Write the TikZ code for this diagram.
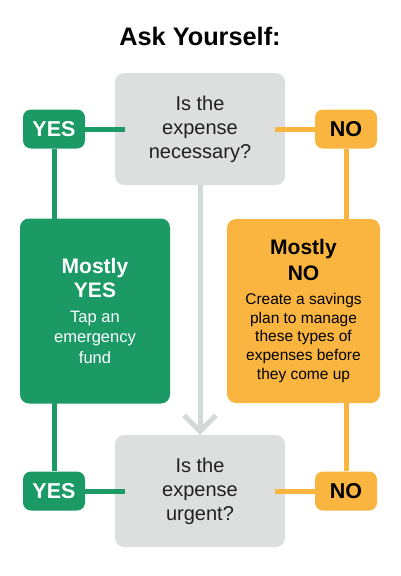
\documentclass[tikz,border=0pt]{standalone}
\usepackage{fontspec}
\setmainfont{Liberation Sans}
\usepackage{xcolor}
\usepackage{tikz}
\usetikzlibrary{arrows.meta}

\definecolor{verde}{HTML}{1B9A66}
\definecolor{naranja}{HTML}{F9B540}
\definecolor{gris}{HTML}{DCDFDE}
\definecolor{grislinea}{HTML}{D5D8D8}
\definecolor{texto}{HTML}{231F20}
\newcommand{\encabezado}[1]{{\fontsize{21}{24}\selectfont\bfseries #1}}

\begin{document}
\begin{tikzpicture}[x=1pt, y=-1pt,
    question/.style={fill=gris, text=texto, rounded corners=9pt, inner sep=0pt,
        minimum width=170pt, minimum height=112pt, align=center,
        font=\fontsize{20}{24}\selectfont},
    answer/.style={rounded corners=8pt, inner sep=0pt, minimum width=62pt,
        minimum height=39pt, font=\fontsize{21.5}{24}\selectfont\bfseries},
    yeslabel/.style={answer, fill=verde, text=white},
    nolabel/.style={answer, fill=naranja, text=black},
    yesline/.style={verde, line width=5pt},
    noline/.style={naranja, line width=5pt}]
                \useasboundingbox (0,0) rectangle (400,576);
                % Titulo
                \node[font=\fontsize{25.3}{30}\selectfont\bfseries] (title) at (200,36) {Ask Yourself:};
                % Preguntas
                \node[question] (q1) at (200,129) {Is the\\expense\\necessary?};
                \node[question] (q2) at (200,491) {Is the\\expense\\urgent?};
                % Respuestas
                \node[yeslabel] (yes1) at (54,129) {YES};
                \node[yeslabel] (yes2) at (54,491) {YES};
                \node[nolabel] (no1) at (346,129) {NO};
                \node[nolabel] (no2) at (346,491) {NO};
                % Lineas
                \draw[yesline] (yes1.east) -- ([xshift=10pt]q1.west);
                \draw[yesline] (yes2.east) -- ([xshift=10pt]q2.west);
                \draw[yesline] (yes1.south) -- (yes2.north);
                \draw[noline] ([xshift=-10pt]q1.east) -- (no1.west);
                \draw[noline] ([xshift=-10pt]q2.east) -- (no2.west);
                \draw[noline] (no1.south) -- (no2.north);
                \draw[grislinea, line width=5pt, -{Straight Barb[length=16pt, width=32pt]}] (q1.south) -- (q2.north);
                % Mostly YES
                \node[fill=verde, text=white, rounded corners=9pt, minimum width=150pt,
                    minimum height=185pt, align=center, font=\fontsize{16.5}{20.5}\selectfont]
                    (myes) at (95,311) {\encabezado{Mostly}\\[3.5pt]\encabezado{YES}\\[3.8pt]Tap an\\emergency\\fund};
                % Mostly NO
                \node[fill=naranja, text=black, rounded corners=9pt, minimum width=153pt,
                    minimum height=184pt, align=center, font=\fontsize{15.5}{18.7}\selectfont]
                    (mno) at (303.5,311) {\encabezado{Mostly}\\[6.3pt]\encabezado{NO}\\[4.9pt]Create a savings\\plan to manage\\these types of\\expenses before\\they come up};
            \end{tikzpicture}
\end{document}
